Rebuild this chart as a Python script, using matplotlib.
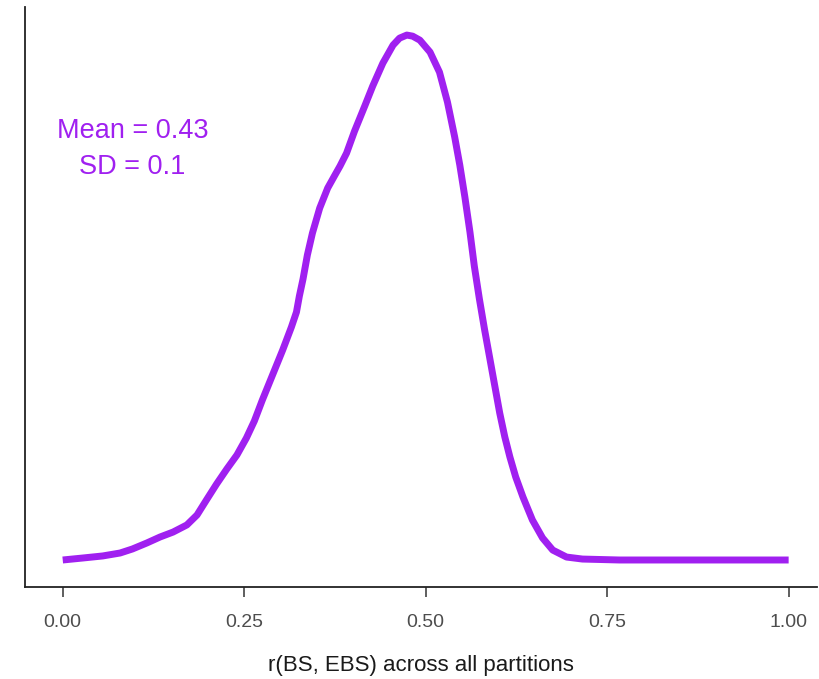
import numpy as np
import matplotlib
matplotlib.use('Agg')
import matplotlib.pyplot as plt

plt.rcParams['font.family'] = ['Liberation Sans', 'DejaVu Sans']

# density of r(BS, EBS)
r_vals = [0.000, 0.028, 0.055, 0.079, 0.096, 0.116, 0.134, 0.152, 0.171, 0.185,
          0.198, 0.212, 0.226, 0.240, 0.253, 0.264, 0.275, 0.289, 0.303, 0.315,
          0.322, 0.326, 0.331, 0.337, 0.344, 0.354, 0.365, 0.375, 0.382, 0.391,
          0.402, 0.416, 0.427, 0.441, 0.455, 0.464, 0.474, 0.482, 0.492, 0.506,
          0.519, 0.530, 0.540, 0.547, 0.554, 0.561, 0.567, 0.574, 0.581, 0.588,
          0.595, 0.602, 0.609, 0.616, 0.624, 0.634, 0.647, 0.661, 0.675, 0.694,
          0.716, 0.767, 1.000]
density = [0.000, 0.015, 0.030, 0.052, 0.082, 0.127, 0.171, 0.208, 0.261, 0.335,
           0.447, 0.566, 0.677, 0.782, 0.908, 1.035, 1.191, 1.377, 1.563, 1.734,
           1.846, 1.965, 2.091, 2.270, 2.434, 2.620, 2.769, 2.866, 2.933, 3.029,
           3.193, 3.379, 3.528, 3.699, 3.833, 3.885, 3.908, 3.900, 3.870, 3.781,
           3.632, 3.409, 3.148, 2.940, 2.702, 2.441, 2.188, 1.943, 1.719, 1.511,
           1.302, 1.094, 0.916, 0.767, 0.618, 0.469, 0.298, 0.164, 0.074, 0.022,
           0.007, 0.000, 0.000]

mean_r = 0.43
sd_r = 0.1
xticks = [0.00, 0.25, 0.50, 0.75, 1.00]
purple = '#A020F0'

fig = plt.figure(figsize=(8.19, 6.79), dpi=100)
ax = fig.add_axes([0.0305, 0.1355, 0.967, 0.854])

ax.plot(r_vals, density, color=purple, lw=5, solid_capstyle='butt', solid_joinstyle='round')

ax.text(0.096, 3.06, 'Mean = {:.2f}\nSD = {}'.format(mean_r, sd_r), color=purple,
        fontsize=19.5, ha='center', va='center', linespacing=1.5)

ax.set_xlim(-0.052, 1.039)
ax.set_ylim(-0.201, 4.116)
ax.set_xticks(xticks)
ax.set_xticklabels(['{:.2f}'.format(t) for t in xticks])
ax.set_yticks([])
ax.tick_params(axis='x', length=7.2, width=1.1, color='#333333', labelcolor='#4d4d4d',
               labelsize=14, pad=12.3)
ax.set_xlabel('r(BS, EBS) across all partitions', fontsize=16, color='#1a1a1a', labelpad=17)

for side in ['top', 'right']:
    ax.spines[side].set_visible(False)
for side in ['left', 'bottom']:
    ax.spines[side].set_linewidth(1.3)
    ax.spines[side].set_color('#222222')

fig.savefig('out.png', dpi=100)
